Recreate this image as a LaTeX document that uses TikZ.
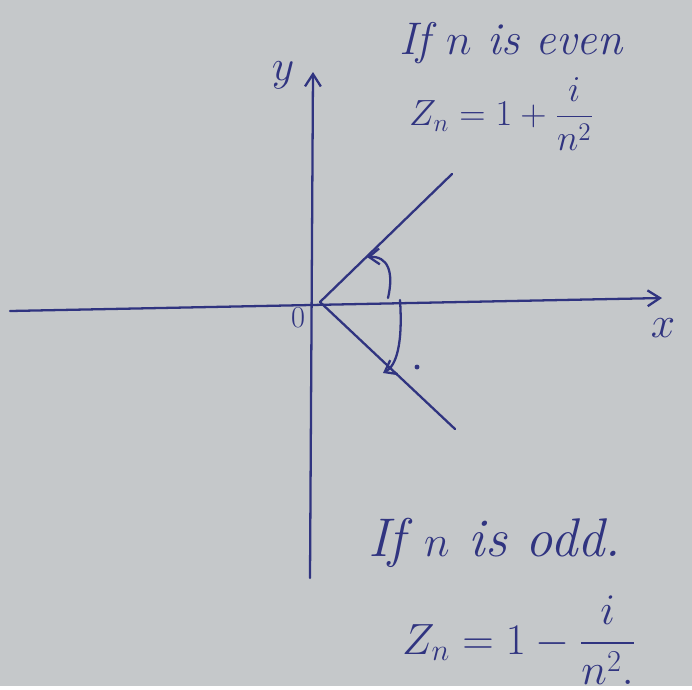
\documentclass[tikz,border=0pt]{standalone}
\usepackage{amsmath}
\usetikzlibrary{arrows.meta}
\definecolor{inkblue}{RGB}{48,52,128}
\definecolor{paper}{RGB}{197,200,202}
\begin{document}
\begin{tikzpicture}[x=0.02cm,y=-0.02cm,
  ink/.style={draw=inkblue,line width=1.3pt,line cap=round},
  hand/.style={text=inkblue,font=\fontsize{26}{30}\selectfont\itshape},
  eqn/.style={text=inkblue,font=\fontsize{22}{26}\selectfont}]
\fill[paper] (0,0) rectangle (692,686);
% axes
\coordinate (O) at (320,302);
\coordinate (xl) at (10,311);
\coordinate (xr) at (662,298);
\coordinate (yb) at (310,578);
\coordinate (yt) at (313,72);
\draw[ink,-{Straight Barb[length=7pt,width=9pt]}] (xl)--(xr);
\draw[ink,-{Straight Barb[length=7pt,width=9pt]}] (yb)--(yt);
\node[hand] (xlab) at (663,328) {$x$};
\node[hand] (ylab) at (283,75) {$y$};
\node[hand,font=\fontsize{18}{20}\selectfont] (olab) at (298,318) {$0$};
% the two rays and their angles
\coordinate (up) at (452,174);
\coordinate (dn) at (455,429);
\draw[ink] (O)--(up);
\draw[ink] (O)--(dn);
\draw[ink,-{Straight Barb[length=6pt,width=9pt]}] (388,298) .. controls (394,272) and (388,256) .. (367,257);
\draw[ink,-{Straight Barb[length=6pt,width=9pt]}] (400,300) .. controls (403,345) and (396,366) .. (383,373);
\fill[inkblue] (417,367) circle (1.4pt);
% cases
\node[hand,anchor=west] (even) at (393,43) {If $n$ is even};
\node[eqn,anchor=west] (zeven) at (403,114) {$Z_n = 1+\dfrac{i}{n^2}$};
\node[hand,anchor=west,font=\fontsize{31}{34}\selectfont\itshape] (odd) at (362,543) {If $n$ is odd.};
\node[eqn,anchor=west,font=\fontsize{25}{28}\selectfont] (zodd) at (396,640) {$Z_n = 1-\dfrac{i}{n^2.}$};
\end{tikzpicture}
\end{document}
